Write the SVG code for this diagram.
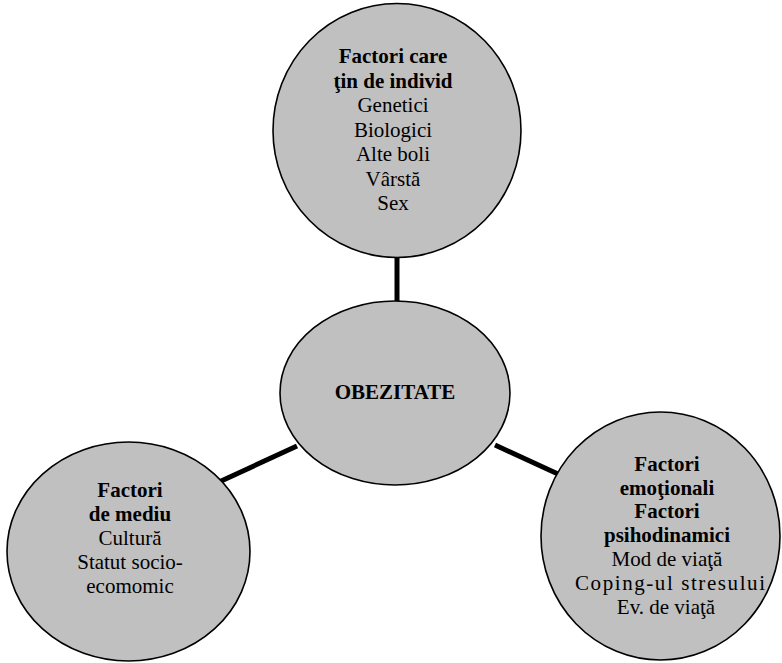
<svg xmlns="http://www.w3.org/2000/svg" width="782" height="663" viewBox="0 0 782 663">
<style>
.node{fill:#c0c0c0;stroke:#000;stroke-width:1.6}
.edge{stroke:#000;stroke-width:5;fill:none}
text{font-family:"Liberation Serif","Times New Roman",serif;font-size:21px;fill:#000;text-anchor:middle}
.b{font-weight:bold}
</style>
<rect width="782" height="663" fill="#fff"/>
<g id="connectors">
<line class="edge" x1="397" y1="256" x2="397" y2="302"/>
<line class="edge" x1="219" y1="482" x2="297" y2="446"/>
<line class="edge" x1="495" y1="445" x2="558" y2="474"/>
</g>
<g id="node-individ">
<ellipse class="node" cx="397" cy="130.5" rx="124" ry="127"/>
<text x="393" y="63" class="b">Factori care</text>
<text x="393" y="87.5" class="b">ţin de individ</text>
<text x="393" y="112">Genetici</text>
<text x="393" y="136.5">Biologici</text>
<text x="393" y="161">Alte boli</text>
<text x="393" y="185.5">Vârstă</text>
<text x="393" y="210">Sex</text>
</g>
<g id="node-obezitate">
<ellipse class="node" cx="395" cy="393" rx="115" ry="92"/>
<text x="395" y="399" class="b">OBEZITATE</text>
</g>
<g id="node-mediu">
<ellipse class="node" cx="128.5" cy="551.5" rx="121.5" ry="109.5"/>
<text x="130" y="496.5" class="b">Factori</text>
<text x="130" y="520.5" class="b">de mediu</text>
<text x="130" y="544.5">Cultură</text>
<text x="130" y="568.5">Statut socio-</text>
<text x="130" y="592.5">ecomomic</text>
</g>
<g id="node-emotionali">
<ellipse class="node" cx="660.5" cy="536" rx="119.5" ry="124"/>
<text x="667" y="471" class="b">Factori</text>
<text x="667" y="494.5" class="b">emoţionali</text>
<text x="667" y="518" class="b">Factori</text>
<text x="667" y="542" class="b">psihodinamici</text>
<text x="667" y="566">Mod de viaţă</text>
<text x="670" y="590" textLength="190" lengthAdjust="spacing">Coping-ul stresului</text>
<text x="666" y="614">Ev. de viaţă</text>
</g>
</svg>
